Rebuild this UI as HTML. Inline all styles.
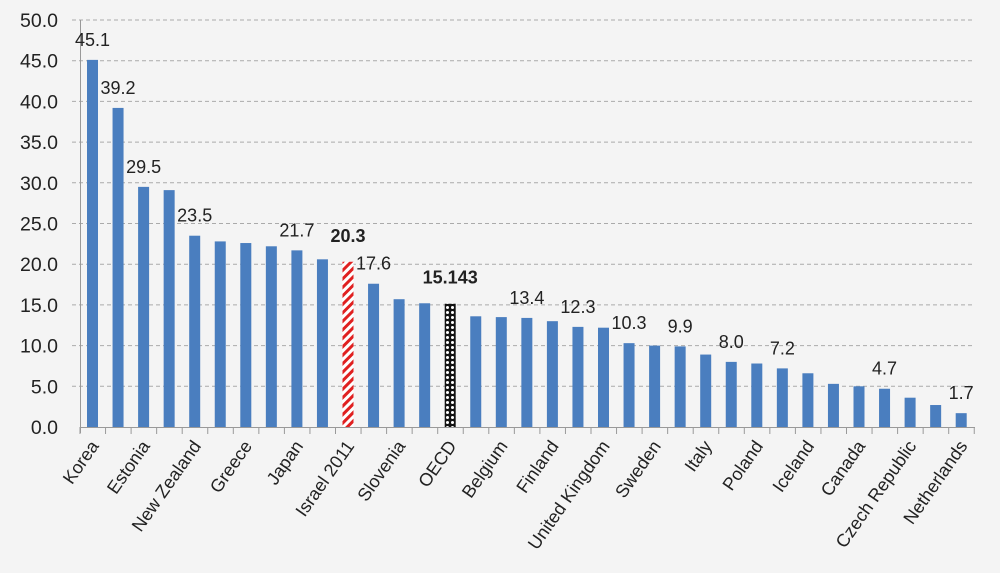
<!DOCTYPE html>
<html><head><meta charset="utf-8"><style>body{margin:0;background:#f4f4f4}svg{display:block}</style></head><body>
<svg width="1000" height="573" xmlns="http://www.w3.org/2000/svg" font-family="Liberation Sans, sans-serif">
<defs>
<pattern id="red" width="6" height="6" patternUnits="userSpaceOnUse" patternTransform="rotate(45)"><rect width="6" height="6" fill="#fff"/><rect width="3" height="6" fill="#e02020"/></pattern>
<pattern id="chk" width="5" height="5" patternUnits="userSpaceOnUse"><rect width="5" height="5" fill="#111"/><circle cx="2.5" cy="2.5" r="1.5" fill="#fff"/></pattern>
</defs>
<rect width="1000" height="573" fill="#f4f4f4"/>
<g id="grid" stroke="#aaa" stroke-dasharray="4,3" stroke-width="1"></g>
<g id="ylab" font-size="19.5" fill="#222" text-anchor="end"></g>
<g id="bars"></g>
<line x1="80" y1="427.5" x2="975" y2="427.5" stroke="#999"/>
<line x1="80.5" y1="20" x2="80.5" y2="433" stroke="#999"/>
<g id="ticks" stroke="#999"></g>
<g id="vlab" font-size="18" fill="#222" text-anchor="middle"></g>
<g id="xlab" font-size="18" fill="#222" text-anchor="end"></g>
</svg>
<script>
const NS="http://www.w3.org/2000/svg";
function el(p,t,a,txt){const e=document.createElementNS(NS,t);for(const k in a)e.setAttribute(k,a[k]);if(txt!=null)e.textContent=txt;document.getElementById(p).appendChild(e);return e;}
const y0=427,s=8.14;
for(let v=0;v<=50;v+=5){const y=y0-v*s;if(v>0)el("grid","line",{x1:72,y1:y,x2:975,y2:y});el("ylab","text",{x:58,y:y+7},v.toFixed(1));}
const vals=[45.1,39.2,29.5,29.1,23.5,22.8,22.6,22.2,21.7,20.6,20.3,17.6,15.7,15.2,15.143,13.6,13.5,13.4,13.0,12.3,12.2,10.3,10.0,9.9,8.9,8.0,7.8,7.2,6.6,5.3,5.0,4.7,3.6,2.7,1.7];
const labs={0:"45.1",1:"39.2",2:"29.5",4:"23.5",8:"21.7",10:"20.3",11:"17.6",14:"15.143",17:"13.4",19:"12.3",21:"10.3",23:"9.9",25:"8.0",27:"7.2",31:"4.7",34:"1.7"};
const names=["Korea","Estonia","New Zealand","Greece","Japan","Israel 2011","Slovenia","OECD","Belgium","Finland","United Kingdom","Sweden","Italy","Poland","Iceland","Canada","Czech Republic","Netherlands"];
const dx=25.55;
vals.forEach((v,i)=>{const cx=92.5+i*dx,h=v*s;
 const f=i==10?"url(#red)":i==14?"url(#chk)":"#4a7ebf";
 el("bars","rect",{x:cx-5.5,y:y0-h,width:11,height:h,fill:f});
 if(labs[i]){const b=(i==10||i==14);el("vlab","text",{x:cx,y:y0-h-(b?20:14),"font-weight":b?"bold":"normal"},labs[i]);}
});
for(let i=0;i<=35;i++){const x=80+i*dx;el("ticks","line",{x1:x,y1:427,x2:x,y2:434});}
names.forEach((n,j)=>{const cx=92.5+2*j*dx+7;el("xlab","text",{x:cx,y:446,transform:`rotate(-55 ${cx} 446)`},n);});
</script>
</body></html>
